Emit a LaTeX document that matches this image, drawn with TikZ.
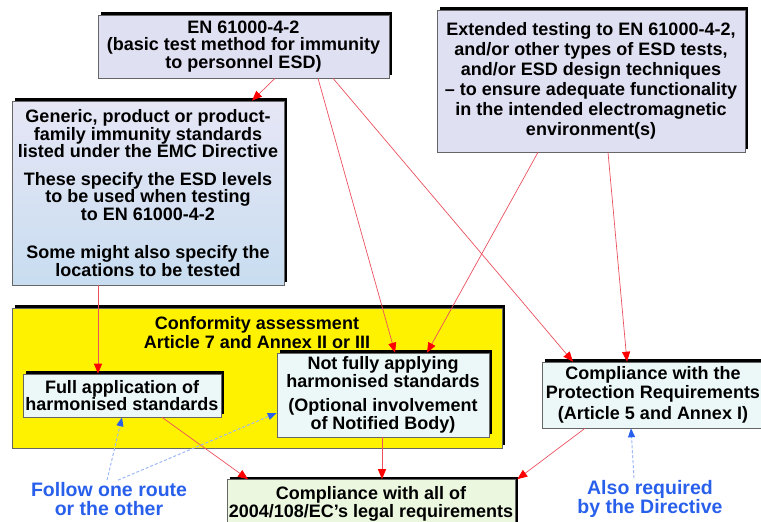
\documentclass[tikz,border=0pt]{standalone}
\usepackage{fontspec}
\setmainfont{Liberation Sans}
\usetikzlibrary{arrows.meta,shadows}

\definecolor{lavender}{RGB}{224,224,243}
\definecolor{paleblue}{RGB}{200,221,240}
\definecolor{palecyan}{RGB}{236,247,248}
\definecolor{palegreen}{RGB}{236,247,224}
\definecolor{confyellow}{RGB}{255,242,0}
\definecolor{arrowred}{RGB}{235,80,95}
\definecolor{routeblue}{RGB}{40,95,235}

\tikzset{
  stdbox/.style={draw=black!60, line width=0.6pt, inner sep=0pt, align=center,
    font=\bfseries\fontsize{18}{17.5}\selectfont,
    drop shadow={shadow xshift=3pt, shadow yshift=3pt, opacity=1, fill=black}},
  redarrow/.style={draw=arrowred, line width=0.7pt,
    -{Triangle[length=10pt,width=8pt,color=red]}},
  bluearrow/.style={draw=routeblue!45, densely dashed, line width=1pt,
    -{Triangle[length=9pt,width=7pt,color=routeblue]}},
  routetext/.style={text=routeblue, align=center, inner sep=2pt,
    font=\bfseries\fontsize{19.5}{19}\selectfont}
}

\begin{document}
\begin{tikzpicture}[x=1pt, y=-1pt]
\useasboundingbox (0,0) rectangle (761,522);

% standards feeding the assessment
\node[stdbox, fill=lavender, minimum width=291pt, minimum height=63pt] (en) at (243.5,46.5)
  {EN 61000-4-2\\(basic test method for immunity\\to personnel ESD)};
\node[stdbox, top color=lavender!80!white, bottom color=paleblue, minimum width=272pt, minimum height=184pt] (generic) at (148,193)
  {Generic, product or product-\\family immunity standards\\listed under the EMC Directive\\[10pt]
   These specify the ESD levels\\to be used when testing\\to EN 61000-4-2\\[21pt]
   Some might also specify the\\locations to be tested};
\node[stdbox, fill=lavender, minimum width=308pt, minimum height=142pt,
  font=\bfseries\fontsize{18}{20}\selectfont] (extended) at (591,81)
  {Extended testing to EN 61000-4-2,\\and/or other types of ESD tests,\\and/or ESD design techniques\\
   -- to ensure adequate functionality\\in the intended electromagnetic\\environment(s)};

% conformity assessment
\node[stdbox, fill=confyellow, minimum width=490pt, minimum height=140pt] (conformity) at (257,378) {};
\node[align=center, font=\bfseries\fontsize{18}{19}\selectfont] (conftitle) at (257,333)
  {Conformity assessment\\Article 7 and Annex II or III};
\node[stdbox, fill=palecyan, minimum width=198pt, minimum height=43pt,
  font=\bfseries\fontsize{18}{16.5}\selectfont] (full) at (122,395.5)
  {Full application of\\harmonised standards};
\node[stdbox, fill=palecyan, minimum width=212pt, minimum height=84pt,
  font=\bfseries\fontsize{18}{16.5}\selectfont] (notfully) at (383,395)
  {Not fully applying\\harmonised standards\\[8pt](Optional involvement\\of Notified Body)};

% compliance
\node[stdbox, fill=palecyan, minimum width=222pt, minimum height=66pt,
  font=\bfseries\fontsize{18}{19}\selectfont] (protection) at (653,395)
  {Compliance with the\\Protection Requirements\\[2pt](Article 5 and Annex I)};
\node[stdbox, fill=palegreen, minimum width=288pt, minimum height=48pt,
  font=\bfseries\fontsize{18}{18}\selectfont] (legal) at (371,503.5)
  {Compliance with all of\\2004/108/EC's legal requirements};

% notes
\node[routetext] (follow) at (109,499) {Follow one route\\or the other};
\node[routetext] (also) at (650,499) {Also required\\by the Directive};

% red connectors
\draw[redarrow] ([xshift=31.5pt]en.south) -- ([xshift=104pt]generic.north);
\draw[redarrow] ([xshift=74.5pt]en.south) -- ([xshift=12pt]notfully.north);
\draw[redarrow] ([xshift=89.5pt]en.south) -- ([xshift=-80pt]protection.north);
\draw[redarrow] ([xshift=-53pt]extended.south) -- ([xshift=44pt]notfully.north);
\draw[redarrow] ([xshift=17pt]extended.south) -- ([xshift=-26pt]protection.north);
\draw[redarrow] ([xshift=-50pt]generic.south) -- ([xshift=-24pt]full.north);
\draw[redarrow] ([xshift=40pt]full.south) -- ([xshift=-123pt]legal.north);
\draw[redarrow] ([xshift=-1pt]notfully.south) -- ([xshift=11pt]legal.north);
\draw[redarrow] ([xshift=-68pt]protection.south) -- ([xshift=2pt]legal.north east);

% blue dashed pointers
\draw[bluearrow] ([xshift=-2pt]follow.north) -- (full.south);
\draw[bluearrow] ([xshift=9pt]follow.north) -- ([yshift=-18pt]notfully.west);
\draw[bluearrow] ([xshift=-16pt]also.north) -- ([xshift=-22pt]protection.south);

\end{tikzpicture}
\end{document}
